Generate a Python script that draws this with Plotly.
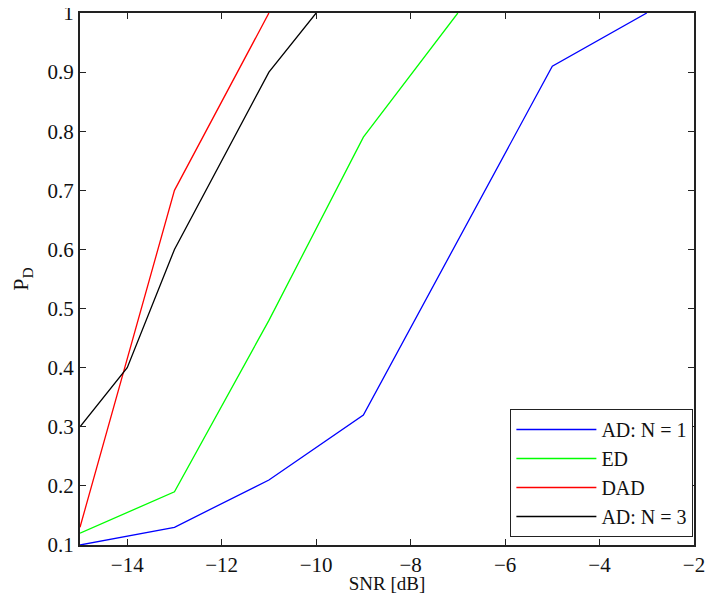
import plotly.graph_objects as go

snr_ad1 = [-15, -13, -11, -9, -5, -3]
pd_ad1 = [0.10, 0.13, 0.21, 0.32, 0.91, 1.00]
snr_ed = [-15, -13, -11, -9, -7]
pd_ed = [0.12, 0.19, 0.48, 0.79, 1.00]
snr_dad = [-15, -13, -11]
pd_dad = [0.13, 0.70, 1.00]
snr_ad3 = [-15, -14, -13, -11, -10]
pd_ad3 = [0.30, 0.40, 0.60, 0.90, 1.00]

x_ticks = [-14, -12, -10, -8, -6, -4, -2]
y_ticks = [0.1, 0.2, 0.3, 0.4, 0.5, 0.6, 0.7, 0.8, 0.9, 1]

font = "Liberation Serif"

fig = go.Figure()
for xs, ys, name, color in [
    (snr_ad1, pd_ad1, "AD: N = 1", "#0000ff"),
    (snr_ed, pd_ed, "ED", "#00ff00"),
    (snr_dad, pd_dad, "DAD", "#ff0000"),
    (snr_ad3, pd_ad3, "AD: N = 3", "#000000"),
]:
    fig.add_trace(go.Scatter(x=xs, y=ys, mode="lines", name=name,
                             line=dict(color=color, width=1.3)))

axis_common = dict(showgrid=False, zeroline=False, showline=True, linecolor="#222",
                   linewidth=2, mirror="ticks", ticks="inside", ticklen=6,
                   tickcolor="#222", automargin=False, ticklabeloverflow="allow",
                   tickfont=dict(family=font, size=21, color="#111"))

fig.update_layout(
    width=707, height=586,
    margin=dict(l=72, r=21, t=5, b=49),
    paper_bgcolor="white", plot_bgcolor="white",
    font=dict(family=font, size=18, color="#111"),
    xaxis=dict(range=[-15, -2], tickvals=x_ticks, ticktext=["\u2212" + str(-v) for v in x_ticks],
               title=dict(text="SNR [dB]", font=dict(family=font, size=19), standoff=1),
               **axis_common),
    yaxis=dict(range=[0.1, 1], tickvals=y_ticks,
               ticktext=["0.1", "0.2", "0.3", "0.4", "0.5", "0.6", "0.7", "0.8", "0.9", "1"],
               title=dict(text="P<sub>D</sub>", font=dict(family=font, size=22), standoff=14),
               **axis_common),
    legend=dict(x=0.999, y=0.015, xanchor="right", yanchor="bottom",
                bgcolor="white", bordercolor="#222", borderwidth=1,
                font=dict(family=font, size=20, color="#111"),
                tracegroupgap=3, itemwidth=80),
    showlegend=True,
)

fig.write_html("out.html")
